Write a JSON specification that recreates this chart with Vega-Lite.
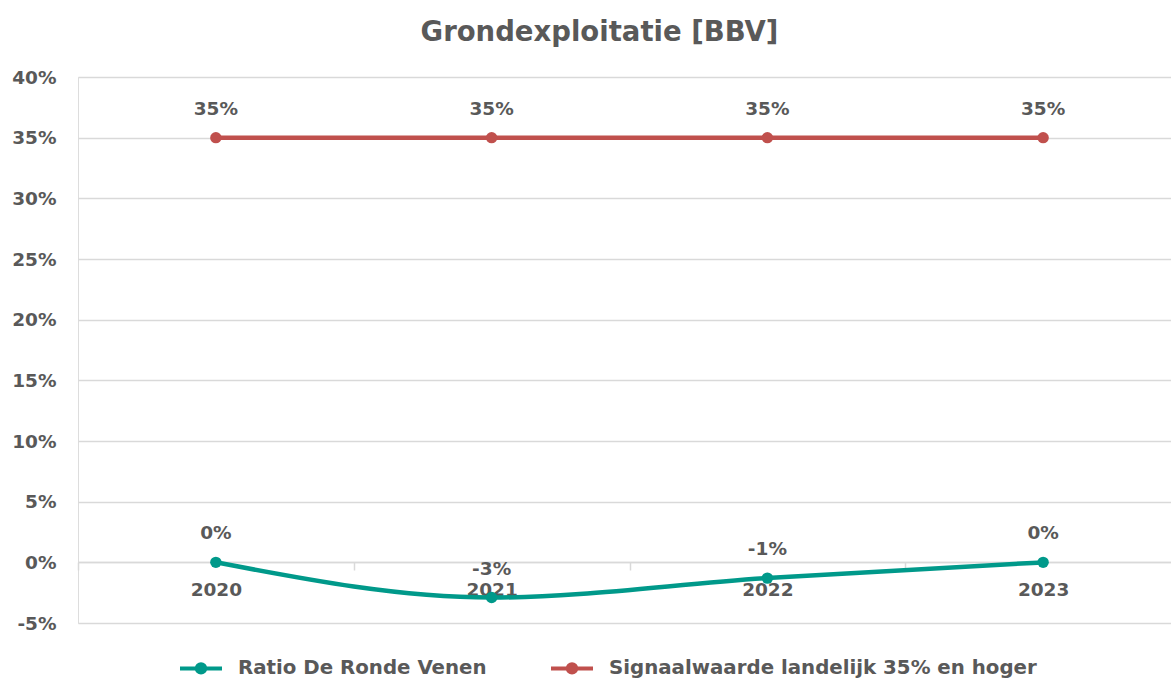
{
  "$schema": "https://vega.github.io/schema/vega-lite/v6.json",
  "width": 1093,
  "height": 546,
  "autosize": {"type": "none"},
  "padding": {"left": 78, "top": 77, "right": 0, "bottom": 58},
  "background": "white",
  "title": {
    "text": "Grondexploitatie [BBV]",
    "font": "DejaVu Sans",
    "fontSize": 27.5,
    "fontWeight": "bold",
    "color": "#595959",
    "anchor": "middle",
    "frame": "group",
    "dx": -25,
    "offset": 22
  },
  "data": {
    "values": [
      {"year": "2020", "series": "Ratio De Ronde Venen", "value": 0},
      {"year": "2021", "series": "Ratio De Ronde Venen", "value": -2.9},
      {"year": "2022", "series": "Ratio De Ronde Venen", "value": -1.3},
      {"year": "2023", "series": "Ratio De Ronde Venen", "value": 0},
      {"year": "2020", "series": "Signaalwaarde landelijk 35% en hoger", "value": 35},
      {"year": "2021", "series": "Signaalwaarde landelijk 35% en hoger", "value": 35},
      {"year": "2022", "series": "Signaalwaarde landelijk 35% en hoger", "value": 35},
      {"year": "2023", "series": "Signaalwaarde landelijk 35% en hoger", "value": 35}
    ]
  },
  "transform": [{"calculate": "round(datum.value) + '%'", "as": "label"}],
  "encoding": {
    "x": {
      "field": "year",
      "type": "ordinal",
      "scale": {"type": "band", "range": [0, 1103], "paddingInner": 0, "paddingOuter": 0},
      "axis": {
        "title": null,
        "offset": -61,
        "labelAngle": 0,
        "labelFont": "DejaVu Sans",
        "labelFontSize": 18.5,
        "labelFontWeight": "bold",
        "labelColor": "#595959",
        "labelPadding": 10,
        "domainColor": "#d9d9d9",
        "domainWidth": 1.5,
        "tickColor": "#d9d9d9",
        "tickWidth": 1.5,
        "tickSize": 8,
        "tickBand": "extent",
        "grid": false
      }
    },
    "y": {
      "field": "value",
      "type": "quantitative",
      "scale": {"domain": [-5, 40], "nice": false, "zero": false},
      "axis": {
        "title": null,
        "values": [-5, 0, 5, 10, 15, 20, 25, 30, 35, 40],
        "labelExpr": "datum.value + '%'",
        "labelFont": "DejaVu Sans",
        "labelFontSize": 18.5,
        "labelFontWeight": "bold",
        "labelColor": "#595959",
        "labelPadding": 22,
        "domain": false,
        "ticks": false,
        "gridColor": "#d9d9d9",
        "gridWidth": 1.5
      }
    },
    "color": {
      "field": "series",
      "type": "nominal",
      "scale": {
        "domain": ["Ratio De Ronde Venen", "Signaalwaarde landelijk 35% en hoger"],
        "range": ["#00998A", "#C0504D"]
      },
      "legend": {
        "title": null,
        "orient": "none",
        "legendX": 100,
        "legendY": 568,
        "direction": "horizontal",
        "symbolType": "M-1,0L1,0M-0.2,0A0.2,0.2,0,1,1,0.2,0A0.2,0.2,0,1,1,-0.2,0",
        "symbolSize": 1764,
        "symbolStrokeWidth": 4,
        "labelFont": "DejaVu Sans",
        "labelFontSize": 19.8,
        "labelFontWeight": "bold",
        "labelColor": "#595959",
        "labelOffset": 14,
        "columnPadding": 56,
        "labelLimit": 600
      }
    }
  },
  "layer": [
    {
      "mark": {"type": "line", "strokeWidth": 4.5, "interpolate": "monotone"}
    },
    {
      "mark": {"type": "point", "filled": true, "size": 130, "opacity": 1}
    },
    {
      "mark": {
        "type": "text",
        "dy": -29,
        "font": "DejaVu Sans",
        "fontSize": 18.5,
        "fontWeight": "bold",
        "color": "#595959"
      },
      "encoding": {
        "text": {"field": "label", "type": "nominal"},
        "color": {"value": "#595959"}
      }
    }
  ]
}
